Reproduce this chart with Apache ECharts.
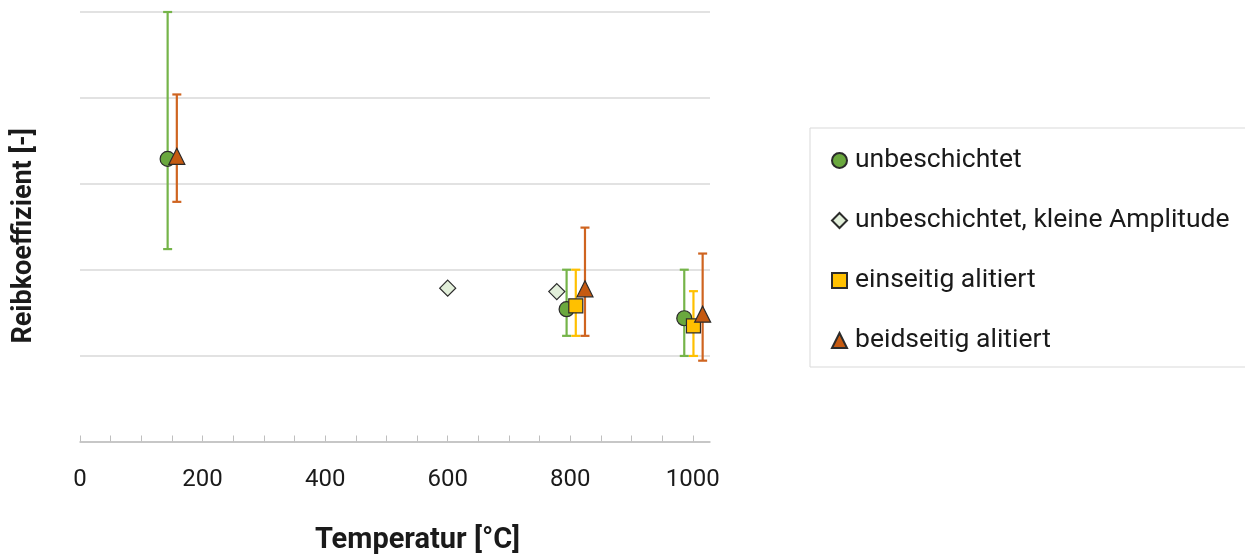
<!DOCTYPE html>
<html>
<head>
<meta charset="utf-8">
<script src="https://cdn.jsdelivr.net/npm/echarts@6/dist/echarts.min.js"></script>
<style>
  html, body { margin: 0; padding: 0; background: #fff; }
  #chart { width: 1245px; height: 555px; }
</style>
</head>
<body>
<div id="chart"></div>
<script>
// Temperatur [°C] and Reibkoeffizient per Beschichtung, with error limits [low, high]
const tempUnbeschichtet = [143, 794, 986];
const reibUnbeschichtet = [0.329, 0.154, 0.1435];
const errUnbeschichtet = [[0.224, 0.500], [0.123, 0.200], [0.0996, 0.200]];

const tempKleineAmplitude = [600, 778];
const reibKleineAmplitude = [0.1785, 0.1745];

const tempEinseitig = [809, 1001];
const reibEinseitig = [0.158, 0.1346];
const errEinseitig = [[0.123, 0.200], [0.0996, 0.175]];

const tempBeidseitig = [158, 824, 1016];
const reibBeidseitig = [0.332, 0.1777, 0.1482];
const errBeidseitig = [[0.279, 0.404], [0.123, 0.249], [0.0941, 0.2188]];

const xTickValues = [0, 50, 100, 150, 200, 250, 300, 350, 400, 450, 500, 550, 600, 650, 700, 750, 800, 850, 900, 950, 1000];
const xLabelValues = [0, 200, 400, 600, 800, 1000];

const seriesNames = [
  'unbeschichtet',
  'unbeschichtet, kleine Amplitude',
  'einseitig alitiert',
  'beidseitig alitiert'
];

const FONT = 'Roboto, "Noto Sans", sans-serif';

function points(xs, ys) {
  return xs.map((x, i) => [x, ys[i]]);
}
function errRows(xs, errs) {
  return xs.map((x, i) => [x, errs[i][0], errs[i][1]]);
}

// vertical error bar with caps at both ends
function errorBarRenderer(color) {
  return function (params, api) {
    const x = api.value(0);
    const lo = api.coord([x, api.value(1)]);
    const hi = api.coord([x, api.value(2)]);
    const cap = 4.5;
    const style = { stroke: color, lineWidth: 2.2 };
    return {
      type: 'group',
      children: [
        { type: 'line', shape: { x1: lo[0], y1: lo[1], x2: hi[0], y2: hi[1] }, style },
        { type: 'line', shape: { x1: hi[0] - cap, y1: hi[1], x2: hi[0] + cap, y2: hi[1] }, style },
        { type: 'line', shape: { x1: lo[0] - cap, y1: lo[1], x2: lo[0] + cap, y2: lo[1] }, style }
      ]
    };
  };
}

function errorSeries(xs, errs, color) {
  return {
    type: 'custom',
    renderItem: errorBarRenderer(color),
    data: errRows(xs, errs),
    encode: { x: 0, y: [1, 2] },
    silent: true,
    z: 2
  };
}

function markerSeries(name, symbol, fill, xs, ys, size) {
  return {
    name: name,
    type: 'scatter',
    symbol: symbol,
    symbolSize: size,
    data: points(xs, ys),
    itemStyle: { color: fill, borderColor: '#2b2b2b', borderWidth: 1.2, opacity: 1 },
    z: 5
  };
}

const chart = echarts.init(document.getElementById('chart'));

chart.setOption({
  animation: false,
  backgroundColor: '#fff',
  grid: { left: 80, right: 535, top: 12, bottom: 113.5, containLabel: false, outerBoundsMode: 'none' },
  xAxis: {
    type: 'value',
    min: 0,
    max: 1028,
    name: 'Temperatur [°C]',
    nameLocation: 'middle',
    nameGap: 85,
    nameTextStyle: { fontFamily: FONT, fontWeight: 'bold', fontSize: 29, color: '#1a1a1a', padding: [0, 0, 0, 45] },
    axisLine: { show: true, lineStyle: { color: '#bfbfbf', width: 1.5 } },
    axisTick: { show: true, inside: true, length: 6, lineStyle: { color: '#bfbfbf', width: 1 }, customValues: xTickValues },
    axisLabel: {
      customValues: xLabelValues,
      margin: 26,
      fontFamily: FONT,
      fontSize: 24,
      color: '#1a1a1a',
      formatter: (v) => String(v)
    },
    splitLine: { show: false }
  },
  yAxis: {
    type: 'value',
    min: 0,
    max: 0.5,
    interval: 0.1,
    name: 'Reibkoeffizient [-]',
    nameLocation: 'middle',
    nameGap: 42,
    nameRotate: 90,
    nameTextStyle: { fontFamily: FONT, fontWeight: 'bold', fontSize: 27, color: '#1a1a1a', padding: [0, 18, 0, 0] },
    axisLine: { show: false },
    axisTick: { show: false },
    axisLabel: { show: false },
    splitLine: { show: true, lineStyle: { color: '#d9d9d9', width: 1.5 } }
  },
  legend: {
    data: seriesNames,
    orient: 'vertical',
    left: 810,
    top: 128,
    padding: [19, 60, 13, 21],
    itemWidth: 15,
    itemHeight: 15,
    itemGap: 33,
    borderColor: '#d9d9d9',
    borderWidth: 1,
    textStyle: { fontFamily: FONT, fontSize: 26.5, color: '#1a1a1a', lineHeight: 26, padding: [0, 0, 0, 3] }
  },
  series: [
    errorSeries(tempUnbeschichtet, errUnbeschichtet, '#75b449'),
    errorSeries(tempEinseitig, errEinseitig, '#ffc000'),
    errorSeries(tempBeidseitig, errBeidseitig, '#cf6420'),
    markerSeries(seriesNames[0], 'circle', '#6aa83e', tempUnbeschichtet, reibUnbeschichtet, 15),
    markerSeries(seriesNames[1], 'diamond', '#e2efda', tempKleineAmplitude, reibKleineAmplitude, 16),
    markerSeries(seriesNames[2], 'rect', '#ffc000', tempEinseitig, reibEinseitig, 14),
    markerSeries(seriesNames[3], 'triangle', '#c55a11', tempBeidseitig, reibBeidseitig, 16)
  ]
});
</script>
</body>
</html>
